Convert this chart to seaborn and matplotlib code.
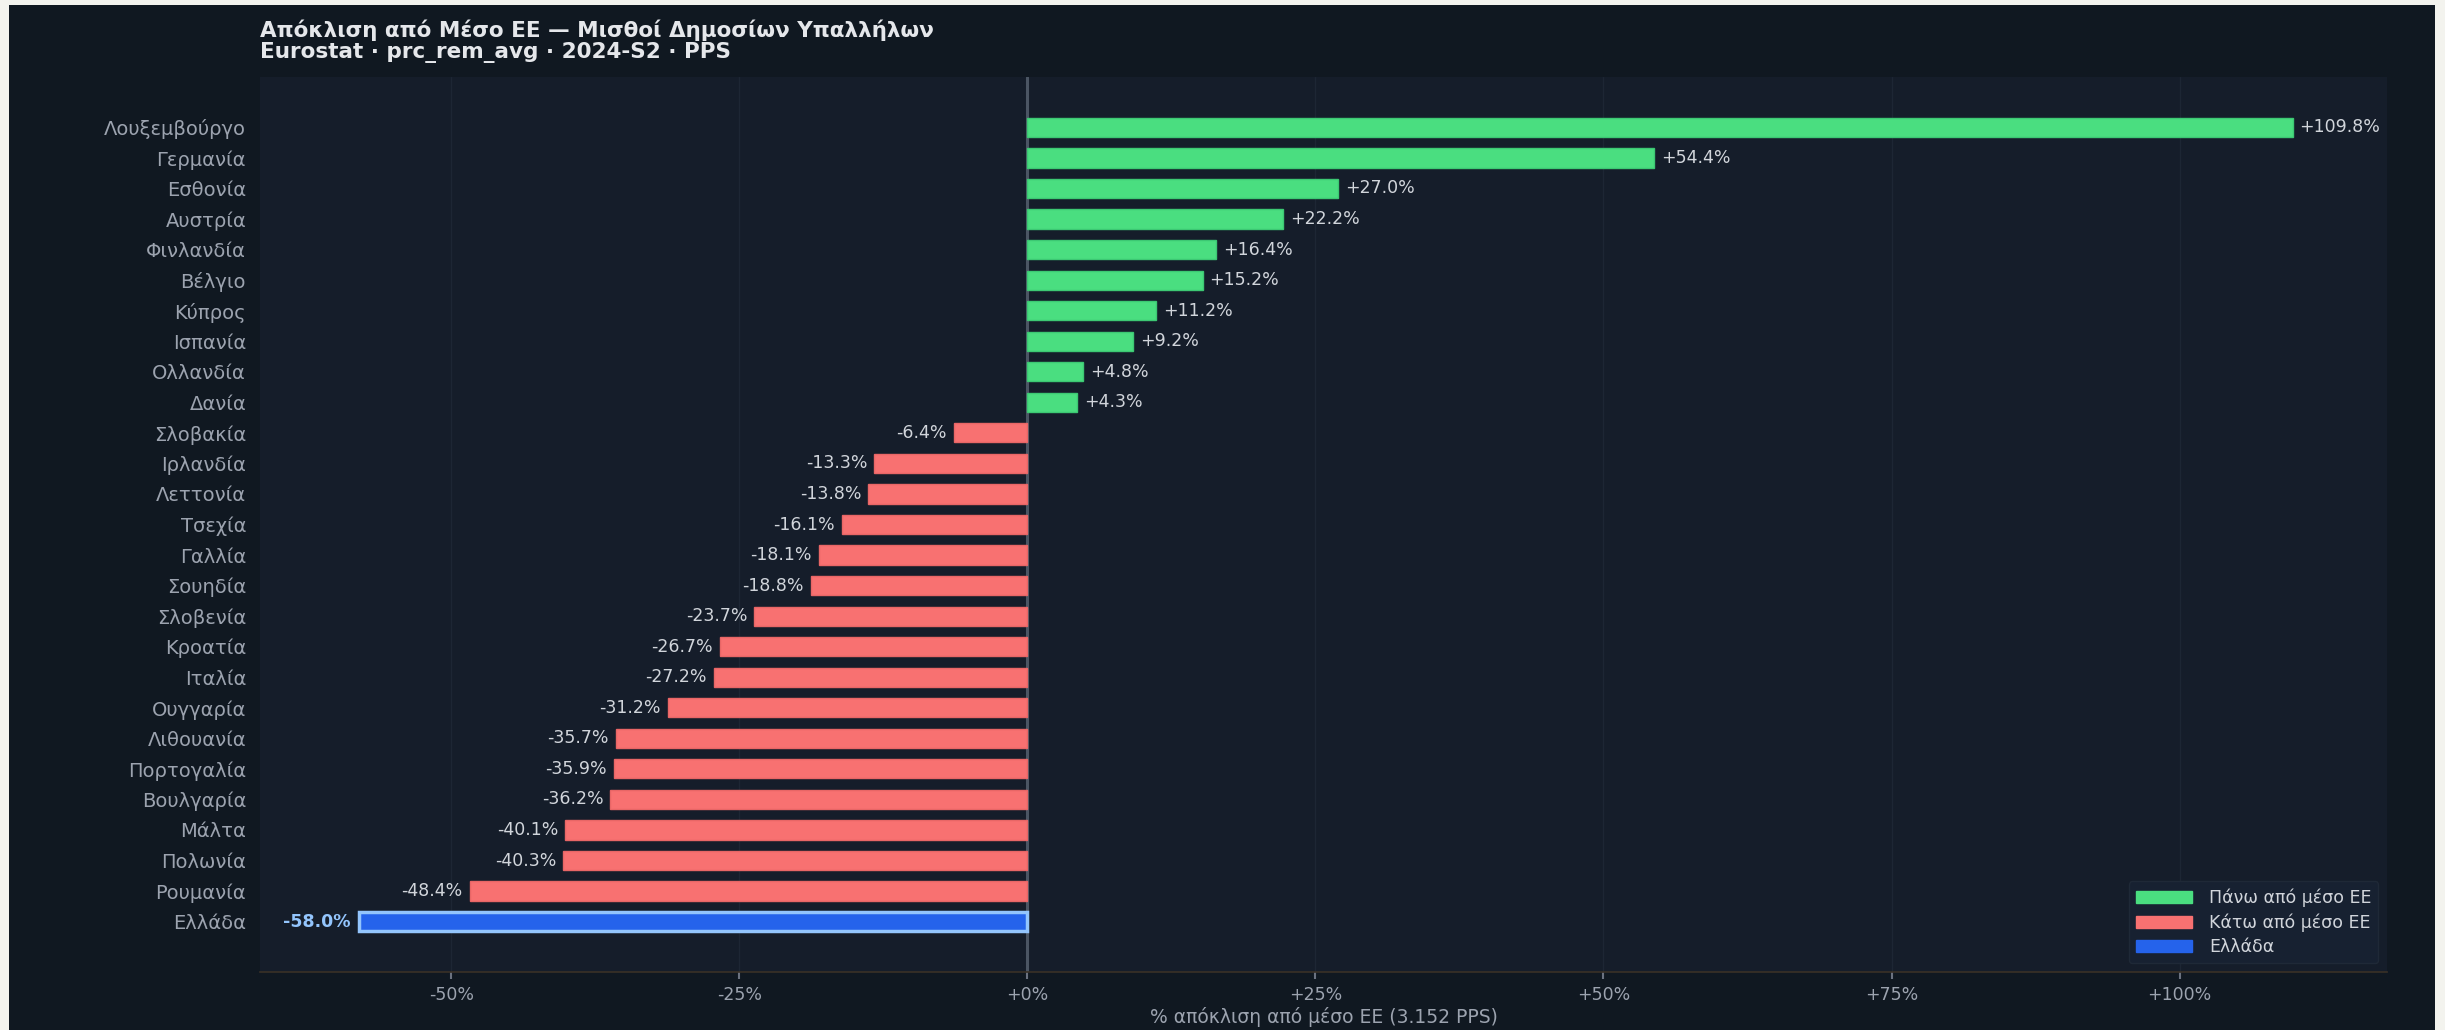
import matplotlib
matplotlib.use("Agg")
import matplotlib.pyplot as plt
import seaborn as sns
import pandas as pd
from matplotlib.patches import Patch, Rectangle
from matplotlib.ticker import MultipleLocator, FuncFormatter

# ---------------- data ----------------
countries = ["Λουξεμβούργο", "Γερμανία", "Εσθονία", "Αυστρία", "Φινλανδία", "Βέλγιο",
             "Κύπρος", "Ισπανία", "Ολλανδία", "Δανία", "Σλοβακία", "Ιρλανδία",
             "Λεττονία", "Τσεχία", "Γαλλία", "Σουηδία", "Σλοβενία", "Κροατία",
             "Ιταλία", "Ουγγαρία", "Λιθουανία", "Πορτογαλία", "Βουλγαρία", "Μάλτα",
             "Πολωνία", "Ρουμανία", "Ελλάδα"]
deviation = [109.8, 54.4, 27.0, 22.2, 16.4, 15.2, 11.2, 9.2, 4.8, 4.3, -6.4, -13.3,
             -13.8, -16.1, -18.1, -18.8, -23.7, -26.7, -27.2, -31.2, -35.7, -35.9,
             -36.2, -40.1, -40.3, -48.4, -58.0]
group_labels = ["Πάνω από μέσο ΕΕ", "Κάτω από μέσο ΕΕ", "Ελλάδα"]
highlight = "Ελλάδα"

title_text = "Απόκλιση από Μέσο ΕΕ — Μισθοί Δημοσίων Υπαλλήλων\nEurostat · prc_rem_avg · 2024-S2 · PPS"
xlabel_text = "% απόκλιση από μέσο ΕΕ (3.152 PPS)"

# ---------------- style ----------------
W, H = 2445, 1030
OUTER = "#f3f3ee"
FIG_BG = "#101821"
AX_BG = "#151d2a"
GREEN = "#4ade80"
RED = "#f87171"
BLUE = "#2563eb"
BLUE_EDGE = "#93c5fd"
colors = [GREEN, RED, BLUE]

groups = [group_labels[2] if c == highlight else (group_labels[0] if v > 0 else group_labels[1])
          for c, v in zip(countries, deviation)]
df = pd.DataFrame({"country": countries, "dev": deviation, "group": groups})

sns.set_theme(style="dark")
plt.rcParams["font.family"] = ["DejaVu Sans"]

fig = plt.figure(figsize=(W / 100, H / 100), dpi=100, facecolor=OUTER)
fig.add_artist(Rectangle((9 / W, 0), (2435 - 9) / W, 1 - 5 / H, transform=fig.transFigure,
                         facecolor=FIG_BG, edgecolor="none", zorder=-10))

ax_left, ax_right, ax_top, ax_bottom = 260, 2387, 77, 972
ax = fig.add_axes([ax_left / W, (H - ax_bottom) / H, (ax_right - ax_left) / W, (ax_bottom - ax_top) / H])
ax.set_facecolor(AX_BG)

sns.barplot(data=df, x="dev", y="country", hue="group", hue_order=group_labels,
            palette=dict(zip(group_labels, colors)), dodge=False, width=0.63,
            orient="h", saturation=1, legend=False, ax=ax, zorder=3)

edge_cols = {group_labels[0]: "#3cc873", group_labels[1]: "#e86666"}
for cont, g in zip(ax.containers, group_labels):
    for bar in cont:
        if g == highlight:
            bar.set_edgecolor(BLUE_EDGE)
            bar.set_linewidth(2.5)
        else:
            bar.set_edgecolor(edge_cols[g])
            bar.set_linewidth(1)
    labels = [f"{b.get_width():+.1f}%" for b in cont]
    if g == highlight:
        ax.bar_label(cont, labels=labels, padding=6, color=BLUE_EDGE, fontsize=12.5,
                     fontweight="bold")
    else:
        ax.bar_label(cont, labels=labels, padding=5, color="#d1d5db", fontsize=12.5)

n = len(countries)
ax.set_ylim(n - 1 + 1.65, -1.65)
ax.set_xlim(-66.6, 118.0)

ax.axvline(0, color="#4b5563", lw=2.2, zorder=2)
ax.xaxis.set_major_locator(MultipleLocator(25))
ax.xaxis.set_major_formatter(FuncFormatter(lambda x, p: f"{x:+.0f}%"))
ax.grid(axis="x", color="#1d2634", lw=1)
ax.grid(axis="y", visible=False)
ax.set_axisbelow(True)

for s in ["top", "right", "left"]:
    ax.spines[s].set_visible(False)
ax.spines["bottom"].set_color("#3a3127")
ax.spines["bottom"].set_linewidth(1.2)

ax.tick_params(axis="x", colors="#6b7280", labelcolor="#9ca3af", labelsize=12.5,
               length=5, width=1.5, pad=5, bottom=True)
ax.tick_params(axis="y", labelcolor="#9ca3af", labelsize=14, length=0, pad=10)

ax.set_ylabel("")
ax.set_xlabel(xlabel_text, color="#9ca3af", fontsize=13.5, labelpad=2)
ax.set_title(title_text, loc="left", color="#e5e7eb", fontsize=15.5, fontweight="bold",
             pad=14, linespacing=1.05)

handles = [Patch(facecolor=c, edgecolor=c, label=l) for c, l in zip(colors, group_labels)]
leg = ax.legend(handles=handles, loc="lower right", frameon=True, facecolor="#172131",
                edgecolor="#1f2937", framealpha=1, labelcolor="#d1d5db", fontsize=12.5,
                handlelength=3.2, handleheight=0.7, handletextpad=1.0, labelspacing=0.38,
                borderaxespad=0.5)
leg.get_frame().set_linewidth(1)

fig.savefig("out.png", dpi=100, facecolor=OUTER)
